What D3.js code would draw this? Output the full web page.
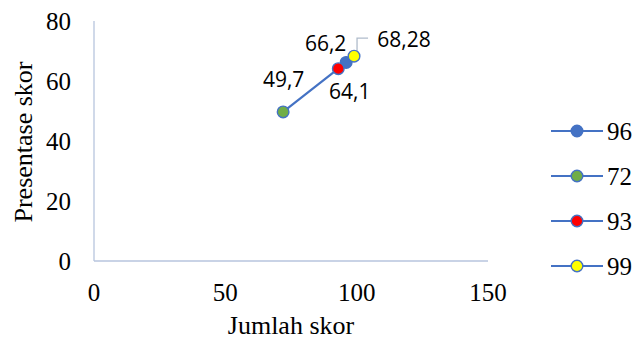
<!DOCTYPE html>
<html>
<head>
<meta charset="utf-8">
<script src="https://cdn.jsdelivr.net/npm/d3@7"></script>
<style>
  html, body { margin: 0; padding: 0; background: #fff; }
  svg { display: block; }
</style>
</head>
<body>
<svg id="chart" width="636" height="343"></svg>
<script>
// Series names (legend), x values and y values
const seriesNames = ["96", "72", "93", "99"];
const jumlahSkor = [96, 72, 93, 99];
const presentaseSkor = [66.2, 49.7, 64.1, 68.28];
const valueLabels = ["66,2", "49,7", "64,1", "68,28"];
const markerFills = ["#4472C4", "#70AD47", "#FF0000", "#FFFF00"];
const xTicks = [0, 50, 100, 150];
const yTicks = [0, 20, 40, 60, 80];

// Label placement relative to each marker (dx, dy to text baseline centre)
const labelOffsets = [[-20.5, -11.5], [0.5, -25], [11.5, 30.5], [50, -9]];

const svg = d3.select("#chart");
const axisColor = "#B7C5DE";
const lineColor = "#4472C4";
const serif = "'Liberation Serif', 'Times New Roman', serif";

const x = d3.scaleLinear().domain([0, 150]).range([94, 488]);
const y = d3.scaleLinear().domain([0, 80]).range([261, 21]);

// Axis lines
svg.append("line")
  .attr("x1", x(0)).attr("x2", x(0))
  .attr("y1", y(0)).attr("y2", y(80))
  .attr("stroke", axisColor).attr("stroke-width", 1.3);
svg.append("line")
  .attr("x1", x(0)).attr("x2", x(150))
  .attr("y1", y(0)).attr("y2", y(0))
  .attr("stroke", axisColor).attr("stroke-width", 1.3);

// Tick labels
svg.append("g").selectAll("text").data(yTicks).join("text")
  .attr("x", 71).attr("y", d => y(d))
  .attr("dy", "0.34em")
  .attr("text-anchor", "end")
  .attr("font-family", serif)
  .attr("font-size", 25)
  .attr("fill", "#000")
  .text(d => d);

svg.append("g").selectAll("text").data(xTicks).join("text")
  .attr("x", d => x(d)).attr("y", 301)
  .attr("text-anchor", "middle")
  .attr("font-family", serif)
  .attr("font-size", 25)
  .attr("fill", "#000")
  .text(d => d);

// Axis titles
svg.append("text")
  .attr("x", 291).attr("y", 334)
  .attr("text-anchor", "middle")
  .attr("font-family", serif)
  .attr("font-size", 26)
  .attr("fill", "#000")
  .text("Jumlah skor");

svg.append("text")
  .attr("transform", "translate(32,142) rotate(-90)")
  .attr("text-anchor", "middle")
  .attr("font-family", serif)
  .attr("font-size", 26)
  .attr("fill", "#000")
  .text("Presentase skor");

// Points
const pts = jumlahSkor.map((v, i) => ({
  name: seriesNames[i], x: v, y: presentaseSkor[i],
  label: valueLabels[i], fill: markerFills[i], off: labelOffsets[i]
}));

// Connecting line through the points in order of x
const sorted = pts.slice().sort((a, b) => a.x - b.x);
svg.append("path")
  .datum(sorted)
  .attr("d", d3.line().x(d => x(d.x)).y(d => y(d.y)))
  .attr("fill", "none")
  .attr("stroke", lineColor)
  .attr("stroke-width", 2.2);

// Leader line for the 68,28 label
const p99 = pts[3];
svg.append("path")
  .attr("d", `M${x(p99.x) + 3},${y(p99.y) - 5} V${y(p99.y) - 18} H${x(p99.x) + 14}`)
  .attr("fill", "none")
  .attr("stroke", "#B0BCCB")
  .attr("stroke-width", 1.3);

svg.append("g").selectAll("circle").data(pts).join("circle")
  .attr("cx", d => x(d.x)).attr("cy", d => y(d.y))
  .attr("r", 5.8)
  .attr("fill", d => d.fill)
  .attr("stroke", lineColor)
  .attr("stroke-width", 1.4);

// Data labels
svg.append("g").selectAll("text").data(pts).join("text")
  .attr("x", d => x(d.x) + d.off[0])
  .attr("y", d => y(d.y) + d.off[1])
  .attr("text-anchor", "middle")
  .attr("font-family", "'Open Sans', 'Noto Sans', sans-serif")
  .attr("font-size", 21)
  .attr("fill", "#000")
  .text(d => d.label);

// Legend
const legend = svg.append("g").selectAll("g").data(pts).join("g")
  .attr("transform", (d, i) => `translate(551,${131 + i * 45})`);
legend.append("line")
  .attr("x1", 0).attr("x2", 52)
  .attr("stroke", lineColor).attr("stroke-width", 2.2);
legend.append("circle")
  .attr("cx", 26).attr("r", 5.8)
  .attr("fill", d => d.fill)
  .attr("stroke", lineColor).attr("stroke-width", 1.4);
legend.append("text")
  .attr("x", 56).attr("dy", "0.34em")
  .attr("font-family", serif)
  .attr("font-size", 25)
  .attr("fill", "#000")
  .text(d => d.name);
</script>
</body>
</html>
